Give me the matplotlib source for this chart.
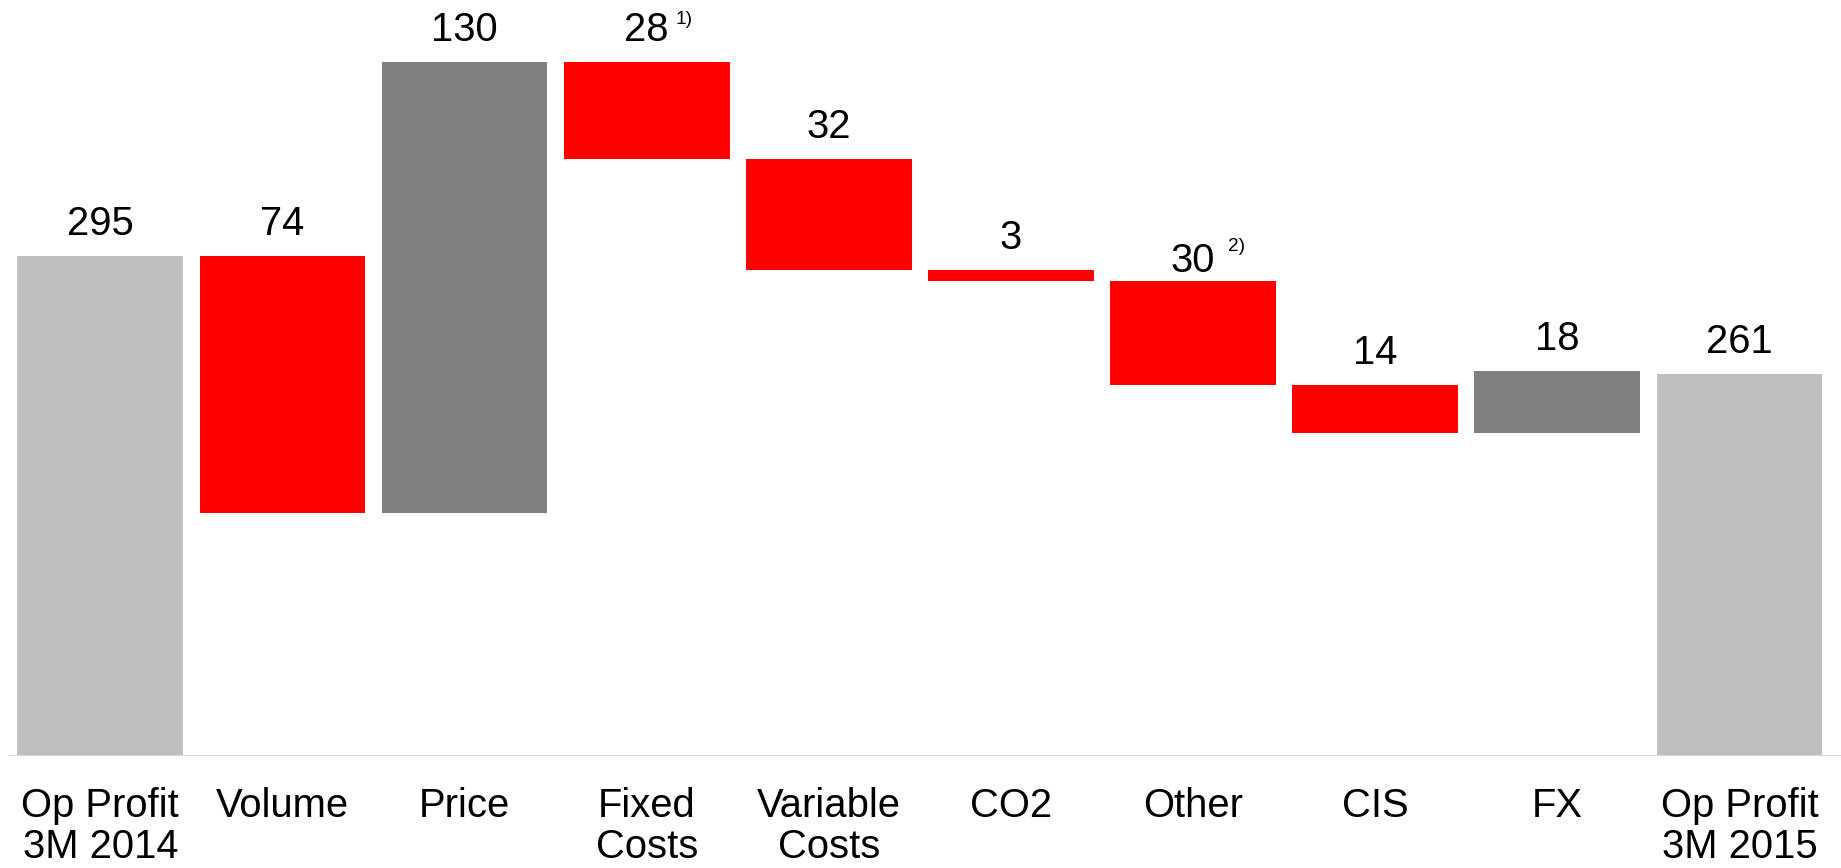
import matplotlib
matplotlib.use("Agg")
import matplotlib.pyplot as plt
import numpy as np

categories = ["Op Profit\n3M 2014", "Volume", "Price", "Fixed\nCosts", "Variable\nCosts",
              "CO2", "Other", "CIS", "FX", "Op Profit\n3M 2015"]
changes = [295, -74, 130, -28, -32, -3, -30, -14, 18, 261]
kinds = ["total", "delta", "delta", "delta", "delta", "delta", "delta", "delta", "delta", "total"]
footnotes = {3: "1)", 6: "2)"}

colors = {"total": "#BFBFBF", "pos": "#808080", "neg": "#FF0000"}

plt.rcParams['font.family'] = ['Liberation Sans', 'DejaVu Sans']

DPI = 72
fig = plt.figure(figsize=(1841 / DPI, 868 / DPI), dpi=DPI)
ax = fig.add_axes([0.0, 0.1299, 1.0, 0.8701])

bottoms, heights, cols, tops = [], [], [], []
running = 0
for v, k in zip(changes, kinds):
    if k == "total":
        b, h, c = 0, v, colors["total"]
        running = v
    else:
        if v >= 0:
            b, h, c = running, v, colors["pos"]
        else:
            b, h, c = running + v, -v, colors["neg"]
        running += v
    bottoms.append(b)
    heights.append(h)
    cols.append(c)
    tops.append(b + h)

x = np.arange(len(categories))
ax.bar(x, heights, bottom=bottoms, color=cols, width=0.91, zorder=2)

ax.set_xlim(-0.551, 9.558)
ax.set_ylim(151, 369)

label_offset = {6: 9}
foot_dx = {3: 29, 6: 35}
foot_dy = {3: 17, 6: 21}
for i, (t, v) in enumerate(zip(tops, changes)):
    off = label_offset.get(i, 21)
    ax.annotate(f"{abs(v)}", xy=(i, t), xytext=(0, off), textcoords="offset points",
                ha="center", va="baseline", fontsize=40, color="black")
    if i in footnotes:
        ax.annotate(footnotes[i], xy=(i, t), xytext=(foot_dx[i], off + foot_dy[i]),
                    textcoords="offset points",
                    ha="left", va="baseline", fontsize=19, color="black")

ax.set_xticks(x)
ax.set_xticklabels(categories, fontsize=40, linespacing=1.09)
ax.tick_params(axis="x", length=0, pad=32)
ax.set_yticks([])
for s in ax.spines.values():
    s.set_visible(False)

ax.axhline(151, xmin=0.005, xmax=1.0, color="#D9D9D9", linewidth=1.2, zorder=1, clip_on=False)

fig.savefig("out.png", dpi=DPI, facecolor="white")
